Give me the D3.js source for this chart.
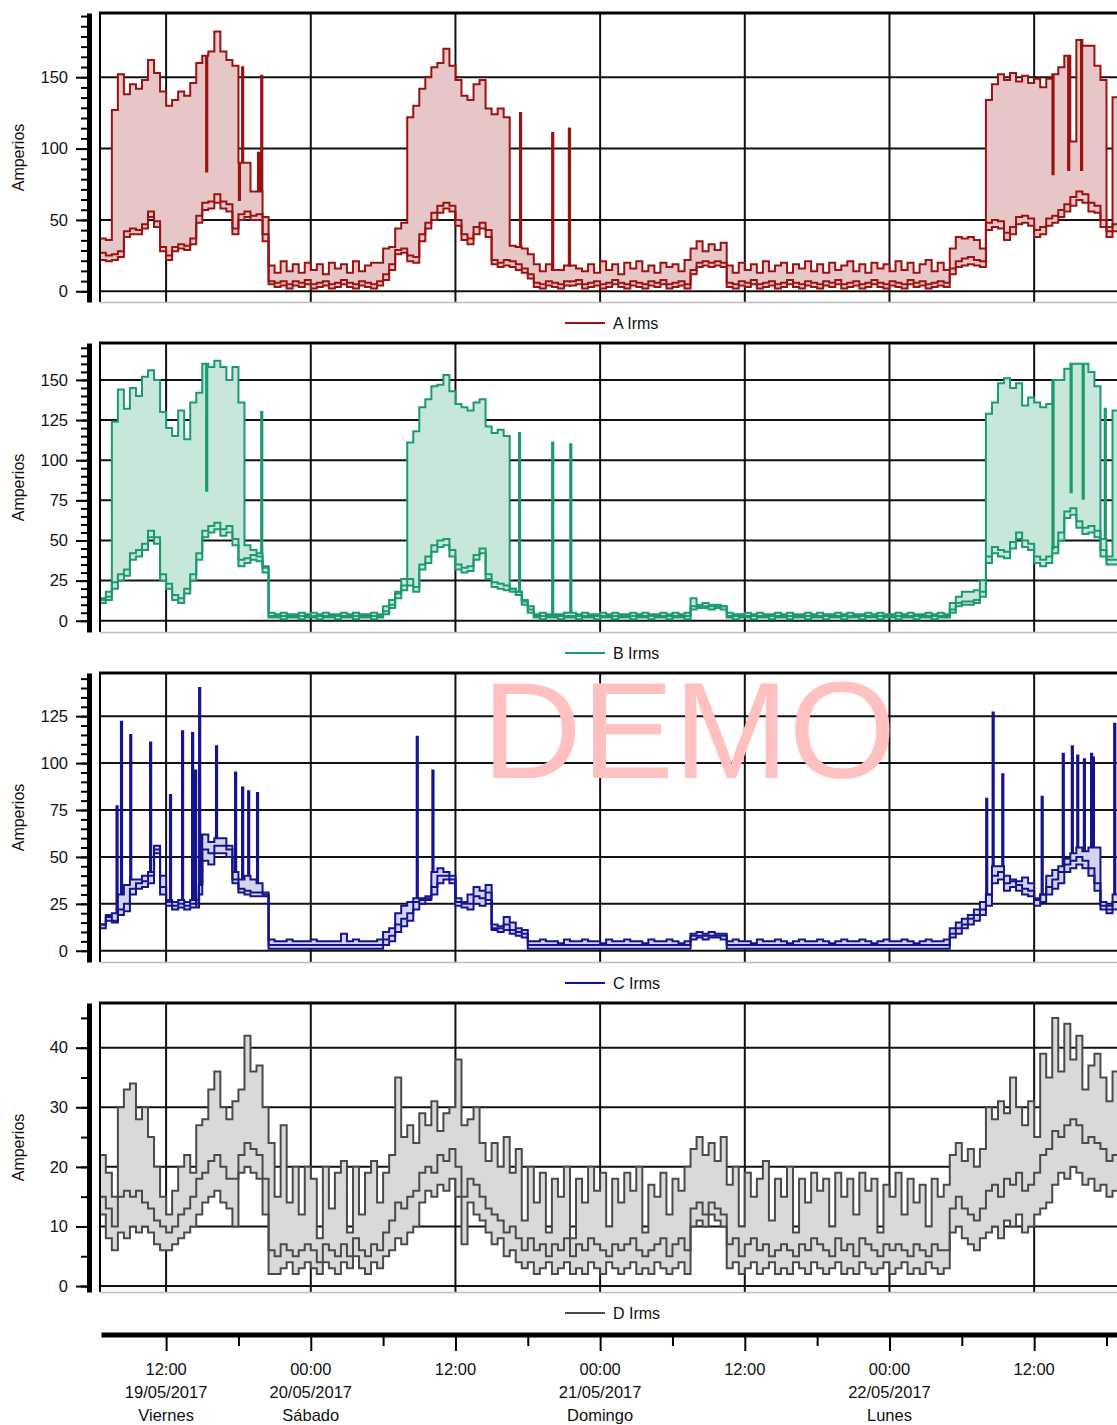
<!DOCTYPE html>
<html>
<head>
<meta charset="utf-8">
<script src="https://cdn.jsdelivr.net/npm/d3@7"></script>
<style>
  body { margin: 0; background: #fff; }
  svg { display: block; }
</style>
</head>
<body>
<svg id="chart" width="1117" height="1425"></svg>
<script>
// Half-hourly max / mean / min current per phase, from 19/05/2017 06:30
const startTime = new Date(2017, 4, 19, 6, 30);
const stepMinutes = 30;

const aMax = [
  37, 36, 127, 152, 138, 145, 142, 148, 162, 153,
  140, 130, 134, 140, 137, 146, 160, 165, 168, 182,
  168, 162, 158, 90, 90, 70, 70, 52, 18, 13,
  21, 14, 19, 13, 20, 15, 19, 12, 20, 16,
  19, 13, 21, 14, 18, 20, 20, 30, 31, 44,
  48, 122, 130, 142, 150, 157, 160, 170, 158, 148,
  137, 134, 145, 148, 128, 124, 128, 122, 32, 31,
  30, 26, 19, 14, 19, 15, 15, 18, 17, 16,
  14, 19, 13, 21, 15, 19, 12, 20, 16, 21,
  14, 18, 13, 20, 17, 19, 14, 22, 30, 35,
  28, 33, 29, 34, 18, 13, 20, 15, 19, 13,
  21, 14, 18, 20, 13, 19, 16, 21, 14, 19,
  13, 20, 15, 18, 21, 14, 19, 13, 20, 16,
  19, 14, 21, 15, 20, 13, 19, 22, 14, 20,
  15, 30, 38, 37, 38, 36, 30, 134, 145, 152,
  148, 153, 147, 151, 146, 149, 143, 149, 152, 157,
  165, 105, 176, 172, 172, 158, 148, 45, 136, 60,
  50
];
const aAvg = [
  27, 25, 26, 28, 42, 44, 43, 47, 56, 49,
  31, 25, 31, 33, 32, 37, 53, 62, 63, 68,
  63, 61, 44, 54, 56, 53, 54, 40, 7, 6,
  7, 5, 7, 6, 8, 5, 6, 7, 5, 6,
  8, 6, 5, 7, 6, 5, 7, 12, 19, 29,
  30, 25, 24, 40, 48, 55, 60, 62, 60, 50,
  40, 37, 45, 48, 43, 22, 20, 22, 21, 19,
  16, 12, 6, 5, 7, 6, 5, 7, 6, 8,
  5, 6, 7, 5, 6, 8, 6, 5, 7, 6,
  5, 7, 6, 8, 5, 6, 7, 5, 15, 20,
  21, 20, 21, 20, 6, 5, 7, 6, 8, 5,
  6, 7, 5, 6, 8, 6, 5, 7, 6, 5,
  7, 6, 8, 5, 6, 7, 5, 6, 8, 6,
  5, 7, 6, 5, 8, 6, 7, 5, 6, 7,
  6, 16, 21, 23, 24, 22, 21, 48, 50, 49,
  41, 45, 52, 53, 51, 43, 45, 51, 53, 57,
  61, 66, 70, 68, 62, 60, 50, 42, 47, 49,
  49
];
const aMin = [
  22, 21, 22, 24, 38, 40, 40, 44, 52, 45,
  28, 22, 28, 30, 29, 33, 48, 57, 58, 62,
  58, 56, 40, 50, 52, 50, 50, 35, 5, 3,
  4, 2, 4, 3, 5, 2, 3, 4, 2, 3,
  5, 3, 2, 4, 3, 2, 4, 8, 15, 26,
  27, 21, 20, 35, 44, 50, 55, 58, 56, 46,
  36, 33, 40, 44, 38, 19, 17, 18, 17, 15,
  13, 9, 3, 2, 4, 3, 2, 4, 3, 5,
  2, 3, 4, 2, 3, 5, 3, 2, 4, 3,
  2, 4, 3, 5, 2, 3, 4, 2, 12, 17,
  18, 17, 18, 17, 3, 2, 4, 3, 5, 2,
  3, 4, 2, 3, 5, 3, 2, 4, 3, 2,
  4, 3, 5, 2, 3, 4, 2, 3, 5, 3,
  2, 4, 3, 2, 5, 3, 4, 2, 3, 4,
  3, 12, 17, 18, 19, 18, 17, 43, 45, 44,
  36, 40, 47, 48, 46, 38, 40, 46, 48, 52,
  56, 60, 64, 62, 56, 55, 45, 38, 42, 44,
  44
];
// short-lived readings inside a half hour (a few minutes long)
const aBriefTimes = ['2017-05-19T15:19', '2017-05-19T18:02', '2017-05-19T18:18', '2017-05-19T19:37',
                     '2017-05-19T19:53', '2017-05-20T17:21', '2017-05-20T20:01', '2017-05-20T21:24',
                     '2017-05-22T13:31', '2017-05-22T14:49', '2017-05-22T15:53'];
const aBriefMax = [84, 64, 157, 97, 151, 125, 111, 114, 82, 85, 85];

const bMax = [
  14, 18, 124, 144, 132, 145, 140, 152, 156, 150,
  130, 120, 115, 131, 113, 136, 142, 160, 158, 162,
  158, 150, 158, 136, 47, 44, 42, 34, 5, 4,
  5, 4, 4, 5, 4, 5, 4, 5, 4, 4,
  5, 4, 5, 4, 4, 5, 4, 9, 13, 18,
  26, 111, 118, 133, 138, 146, 147, 153, 143, 135,
  133, 131, 136, 138, 121, 117, 119, 115, 20, 18,
  13, 9, 4, 5, 4, 4, 4, 5, 5, 4,
  5, 4, 4, 5, 4, 5, 4, 4, 5, 4,
  5, 4, 4, 5, 4, 5, 4, 5, 14, 10,
  11, 10, 10, 9, 5, 4, 4, 5, 4, 5,
  4, 4, 5, 4, 5, 4, 4, 5, 4, 5,
  4, 4, 5, 4, 5, 4, 4, 5, 4, 5,
  4, 4, 5, 4, 5, 4, 4, 5, 4, 5,
  4, 11, 15, 18, 18, 19, 25, 129, 136, 148,
  151, 145, 148, 134, 139, 136, 133, 135, 150, 150,
  157, 160, 160, 160, 155, 146, 51, 40, 131, 60,
  50
];
const bAvg = [
  13, 15, 24, 29, 32, 42, 44, 48, 56, 52,
  29, 23, 16, 14, 20, 29, 42, 56, 59, 61,
  57, 59, 51, 38, 39, 41, 40, 33, 3, 3,
  3, 3, 3, 3, 3, 3, 3, 3, 3, 3,
  3, 3, 3, 3, 3, 3, 3, 6, 10, 17,
  22, 26, 21, 35, 40, 47, 50, 51, 44, 35,
  33, 34, 41, 45, 29, 24, 23, 22, 20, 18,
  12, 7, 3, 3, 3, 3, 3, 3, 3, 3,
  3, 3, 3, 3, 3, 3, 3, 3, 3, 3,
  3, 3, 3, 3, 3, 3, 3, 3, 9, 9,
  9, 9, 9, 9, 3, 3, 3, 3, 3, 3,
  3, 3, 3, 3, 3, 3, 3, 3, 3, 3,
  3, 3, 3, 3, 3, 3, 3, 3, 3, 3,
  3, 3, 3, 3, 3, 3, 3, 3, 3, 3,
  3, 7, 11, 12, 12, 13, 18, 40, 46, 44,
  43, 49, 55, 50, 48, 40, 38, 40, 46, 55,
  68, 70, 62, 58, 59, 56, 44, 38, 38, 39,
  39
];
const bMin = [
  11, 13, 20, 25, 28, 38, 40, 44, 52, 48,
  25, 20, 13, 11, 17, 25, 38, 52, 55, 57,
  53, 55, 47, 34, 36, 38, 37, 30, 2, 2,
  1, 2, 2, 1, 2, 2, 1, 2, 2, 1,
  2, 2, 1, 2, 2, 1, 2, 4, 8, 14,
  19, 22, 18, 32, 36, 43, 46, 47, 40, 32,
  30, 31, 38, 42, 26, 21, 20, 19, 18, 16,
  10, 5, 2, 1, 2, 2, 1, 2, 2, 1,
  2, 2, 1, 2, 2, 1, 2, 2, 1, 2,
  2, 1, 2, 2, 1, 2, 2, 1, 7, 8,
  8, 7, 8, 7, 2, 1, 2, 2, 1, 2,
  2, 1, 2, 2, 1, 2, 2, 1, 2, 2,
  1, 2, 2, 1, 2, 2, 1, 2, 2, 1,
  2, 2, 1, 2, 2, 1, 2, 2, 1, 2,
  2, 5, 9, 10, 10, 11, 15, 36, 42, 40,
  39, 45, 51, 46, 44, 36, 34, 36, 42, 50,
  64, 66, 58, 54, 55, 52, 40, 35, 35, 36,
  36
];
const bBriefTimes = ['2017-05-19T15:19', '2017-05-19T19:53', '2017-05-20T17:16', '2017-05-20T20:01',
                     '2017-05-20T21:31', '2017-05-22T13:31', '2017-05-22T15:01', '2017-05-22T16:01',
                     '2017-05-22T17:51'];
const bBriefMax = [81, 130, 117, 111, 110, 45, 80, 76, 132];

const cMax = [
  14, 19, 20, 30, 35, 38, 38, 40, 42, 56,
  40, 27, 26, 27, 26, 27, 36, 62, 58, 60,
  60, 56, 42, 38, 40, 38, 36, 31, 6, 5,
  5, 6, 5, 5, 5, 6, 5, 5, 5, 5,
  9, 5, 6, 5, 5, 5, 6, 10, 12, 20,
  24, 26, 28, 28, 29, 42, 44, 42, 40, 28,
  26, 30, 34, 32, 35, 14, 13, 18, 15, 12,
  11, 5, 5, 6, 5, 5, 4, 6, 5, 5,
  6, 5, 5, 4, 6, 5, 5, 6, 5, 5,
  4, 6, 5, 5, 6, 5, 4, 5, 9, 10,
  9, 10, 9, 9, 5, 6, 5, 5, 4, 6,
  5, 5, 6, 5, 4, 5, 6, 5, 5, 6,
  5, 4, 5, 6, 5, 5, 6, 5, 4, 5,
  6, 5, 5, 6, 5, 4, 5, 6, 5, 5,
  6, 12, 15, 17, 19, 22, 26, 30, 45, 45,
  40, 38, 37, 39, 36, 28, 30, 40, 43, 45,
  49, 52, 55, 53, 55, 55, 26, 24, 30, 40,
  40
];
const cAvg = [
  14, 18, 16, 22, 25, 33, 36, 37, 40, 54,
  34, 26, 24, 25, 24, 25, 35, 54, 52, 56,
  56, 54, 38, 33, 32, 31, 31, 30, 3, 3,
  3, 3, 3, 3, 3, 3, 3, 3, 3, 3,
  3, 3, 3, 3, 3, 3, 3, 6, 8, 14,
  17, 20, 26, 27, 28, 34, 40, 40, 38, 26,
  25, 25, 29, 28, 31, 12, 12, 14, 11, 10,
  9, 3, 3, 3, 3, 3, 3, 3, 3, 3,
  3, 3, 3, 3, 3, 3, 3, 3, 3, 3,
  3, 3, 3, 3, 3, 3, 3, 3, 8, 8,
  8, 8, 8, 8, 3, 3, 3, 3, 3, 3,
  3, 3, 3, 3, 3, 3, 3, 3, 3, 3,
  3, 3, 3, 3, 3, 3, 3, 3, 3, 3,
  3, 3, 3, 3, 3, 3, 3, 3, 3, 3,
  3, 9, 12, 14, 17, 19, 22, 30, 40, 42,
  36, 37, 35, 33, 32, 27, 30, 34, 38, 42,
  46, 48, 50, 48, 44, 36, 24, 22, 26, 34,
  34
];
const cMin = [
  12, 16, 15, 19, 21, 30, 33, 34, 36, 52,
  30, 24, 22, 23, 22, 23, 30, 48, 46, 52,
  52, 50, 36, 31, 30, 29, 29, 29, 1, 1,
  1, 1, 1, 1, 1, 1, 1, 1, 1, 1,
  1, 1, 1, 1, 1, 1, 1, 3, 5, 10,
  13, 16, 22, 25, 27, 30, 36, 38, 36, 24,
  23, 22, 25, 24, 27, 11, 10, 11, 9, 8,
  7, 1, 1, 1, 1, 1, 1, 1, 1, 1,
  1, 1, 1, 1, 1, 1, 1, 1, 1, 1,
  1, 1, 1, 1, 1, 1, 1, 1, 6, 7,
  6, 7, 7, 6, 1, 1, 1, 1, 1, 1,
  1, 1, 1, 1, 1, 1, 1, 1, 1, 1,
  1, 1, 1, 1, 1, 1, 1, 1, 1, 1,
  1, 1, 1, 1, 1, 1, 1, 1, 1, 1,
  1, 7, 9, 12, 14, 16, 19, 24, 36, 38,
  32, 34, 32, 30, 29, 24, 26, 30, 33, 36,
  42, 44, 46, 44, 40, 32, 22, 20, 22, 30,
  30
];
const cBriefTimes = ['2017-05-19T07:53', '2017-05-19T08:15', '2017-05-19T09:01', '2017-05-19T10:40',
                     '2017-05-19T12:19', '2017-05-19T13:19', '2017-05-19T14:09', '2017-05-19T14:24',
                     '2017-05-19T14:44', '2017-05-19T16:08', '2017-05-19T17:43', '2017-05-19T18:18',
                     '2017-05-19T18:48', '2017-05-19T19:32', '2017-05-20T08:47', '2017-05-20T10:05',
                     '2017-05-22T08:01', '2017-05-22T08:33', '2017-05-22T09:21', '2017-05-22T12:37',
                     '2017-05-22T14:22', '2017-05-22T15:07', '2017-05-22T15:34', '2017-05-22T16:07',
                     '2017-05-22T16:43', '2017-05-22T16:52', '2017-05-22T18:38'];
const cBriefMax = [77, 122, 115, 111, 83, 117, 116, 96, 140, 109, 95, 87, 85, 84, 114, 96,
                   81, 127, 94, 82, 105, 109, 104, 102, 105, 103, 121];

const dMax = [
  22, 19, 15, 30, 33, 34, 28, 30, 25, 20,
  15, 12, 16, 20, 22, 19, 27, 28, 33, 36,
  30, 28, 31, 33, 42, 36, 37, 30, 24, 15,
  27, 14, 20, 12, 20, 18, 8, 20, 13, 19,
  21, 9, 20, 12, 19, 21, 14, 19, 22, 35,
  25, 27, 24, 29, 27, 31, 26, 29, 30, 38,
  27, 28, 30, 24, 21, 24, 20, 25, 19, 23,
  11, 20, 14, 19, 9, 18, 15, 20, 8, 18,
  14, 20, 16, 19, 10, 18, 14, 19, 16, 20,
  9, 17, 15, 19, 12, 18, 16, 20, 23, 25,
  22, 24, 21, 25, 17, 20, 10, 19, 15, 18,
  21, 11, 18, 15, 20, 9, 18, 14, 19, 16,
  18, 10, 19, 15, 18, 12, 19, 16, 18, 9,
  17, 15, 19, 12, 18, 14, 17, 10, 18, 15,
  17, 22, 24, 21, 23, 20, 23, 30, 28, 31,
  29, 35, 30, 27, 31, 25, 39, 35, 45, 36,
  44, 38, 42, 33, 37, 39, 35, 31, 36, 30,
  30
];
const dAvg = [
  15, 13, 10, 15, 16, 15, 16, 14, 13, 11,
  10, 9, 10, 12, 13, 15, 18, 19, 21, 22,
  20, 18, 18, 22, 24, 23, 22, 18, 6, 5,
  7, 6, 5, 6, 7, 6, 4, 7, 6, 5,
  7, 5, 8, 6, 5, 7, 6, 9, 11, 14,
  13, 15, 16, 19, 20, 19, 22, 21, 23, 20,
  15, 18, 17, 15, 13, 12, 11, 9, 10, 8,
  6, 8, 6, 7, 5, 7, 6, 8, 5, 7,
  6, 8, 7, 6, 5, 7, 6, 7, 8, 6,
  5, 6, 7, 8, 5, 7, 8, 6, 13, 14,
  12, 14, 13, 12, 7, 8, 5, 7, 8, 6,
  7, 5, 6, 7, 6, 5, 7, 6, 8, 7,
  6, 5, 8, 6, 7, 5, 8, 7, 6, 5,
  7, 6, 7, 6, 5, 7, 6, 5, 7, 6,
  6, 13, 15, 13, 12, 11, 13, 16, 17, 15,
  18, 17, 19, 16, 17, 19, 22, 23, 26, 25,
  27, 28, 27, 24, 25, 24, 23, 21, 22, 23,
  23
];
const dMin = [
  12, 8, 6, 9, 8, 10, 9, 10, 9, 7,
  6, 6, 7, 8, 9, 10, 12, 14, 15, 16,
  14, 13, 10, 19, 20, 19, 18, 12, 2, 2,
  3, 4, 2, 3, 4, 3, 2, 4, 3, 2,
  4, 3, 5, 3, 2, 4, 3, 5, 6, 8,
  7, 9, 10, 14, 16, 15, 17, 16, 18, 15,
  7, 14, 12, 11, 9, 7, 8, 5, 6, 4,
  3, 4, 2, 3, 4, 2, 3, 4, 2, 3,
  2, 4, 3, 2, 4, 3, 2, 3, 4, 2,
  3, 2, 4, 3, 2, 3, 4, 2, 10, 11,
  10, 12, 11, 10, 3, 4, 2, 3, 4, 2,
  3, 4, 2, 3, 2, 4, 3, 2, 4, 3,
  2, 3, 4, 2, 3, 2, 4, 3, 2, 3,
  4, 2, 3, 4, 2, 3, 2, 4, 3, 2,
  3, 9, 10, 8, 7, 6, 8, 9, 10, 8,
  11, 10, 12, 9, 10, 12, 13, 14, 17, 19,
  18, 20, 19, 17, 18, 16, 17, 15, 16, 17,
  17
];
const dBriefTimes = [];
const dBriefMax = [];
const briefMinutes = 6;

// Time axis: major ticks every 12 h, minor ticks at 06:00 / 18:00
const xMajorTimes = ['2017-05-19T12:00', '2017-05-20T00:00', '2017-05-20T12:00', '2017-05-21T00:00',
                     '2017-05-21T12:00', '2017-05-22T00:00', '2017-05-22T12:00'];
const xMajorLabels = [
  ['12:00', '19/05/2017', 'Viernes'],
  ['00:00', '20/05/2017', 'Sábado'],
  ['12:00'],
  ['00:00', '21/05/2017', 'Domingo'],
  ['12:00'],
  ['00:00', '22/05/2017', 'Lunes'],
  ['12:00']
];
const xMinorTimes = ['2017-05-19T18:00', '2017-05-20T06:00', '2017-05-20T18:00', '2017-05-21T06:00',
                     '2017-05-21T18:00', '2017-05-22T06:00', '2017-05-22T18:00'];

const seriesNames = ['A Irms', 'B Irms', 'C Irms', 'D Irms'];
const yMajorTicks = [[0, 50, 100, 150], [0, 25, 50, 75, 100, 125, 150], [0, 25, 50, 75, 100, 125], [0, 10, 20, 30, 40]];
const yDomains = [[-7.5, 195], [-7, 173], [-6, 148], [-1, 47.5]];
const yMinorSteps = [50 / 7, 5, 5, 5];
const strokeColors = ['#9c1111', '#1b9a6c', '#14148f', '#4a4a4a'];
const fillColors = ['#e6c6c6', '#c6e7da', '#d3d5ec', '#d9d9d9'];
const seriesData = [[aMax, aAvg, aMin], [bMax, bAvg, bMin], [cMax, cAvg, cMin], [dMax, dAvg, dMin]];
const briefData = [[aBriefTimes, aBriefMax], [bBriefTimes, bBriefMax], [cBriefTimes, cBriefMax], [dBriefTimes, dBriefMax]];

const FONT = '"Liberation Sans", Arial, Helvetica, sans-serif';
const parseT = d3.timeParse('%Y-%m-%dT%H:%M');
const svg = d3.select('#chart');

const plotLeft = 100, plotRight = 1131;
const panelTop0 = 13, panelStep = 330, panelH = 289;

const x = d3.scaleTime()
  .domain([new Date(2017, 4, 19, 6, 36), new Date(2017, 4, 22, 20, 0)])
  .range([101, 1130.6]);

const times = aMax.map((_, i) => new Date(startTime.getTime() + i * stepMinutes * 60000));
const majorDates = xMajorTimes.map(parseT);
const minorDates = xMinorTimes.map(parseT);

// half-hour rows plus the short readings, each lasting briefMinutes
function buildRows(series, brief) {
  const [sMax, sAvg, sMin] = series;
  const [bTimes, bValues] = brief;
  const rows = times.map((t, i) => ({ t, max: sMax[i], avg: sAvg[i], min: sMin[i] }));
  bTimes.forEach((s, j) => {
    const t0 = parseT(s);
    const t1 = new Date(t0.getTime() + briefMinutes * 60000);
    const i = d3.bisectRight(times, t0) - 1;
    rows.push({ t: t0, max: bValues[j], avg: sAvg[i], min: sMin[i] });
    rows.push({ t: t1, max: sMax[i], avg: sAvg[i], min: sMin[i] });
  });
  return rows.sort((a, b) => a.t - b.t);
}

const defs = svg.append('defs');

seriesNames.forEach((name, k) => {
  const top = panelTop0 + panelStep * k;
  const bottom = top + panelH;
  const y = d3.scaleLinear().domain(yDomains[k]).range([bottom, top]);
  const g = svg.append('g');

  defs.append('clipPath').attr('id', 'plotclip' + k)
    .append('rect').attr('x', plotLeft).attr('y', top)
    .attr('width', plotRight - plotLeft).attr('height', bottom - top);

  // grid
  const grid = g.append('g').attr('stroke', '#111').attr('stroke-width', 2);
  grid.selectAll('line.h').data(yMajorTicks[k]).join('line').attr('class', 'h')
    .attr('x1', plotLeft).attr('x2', plotRight)
    .attr('y1', d => y(d)).attr('y2', d => y(d));
  grid.selectAll('line.v').data(majorDates).join('line').attr('class', 'v')
    .attr('x1', d => x(d)).attr('x2', d => x(d))
    .attr('y1', top).attr('y2', bottom);

  // min-max band and the three step lines
  const rows = buildRows(seriesData[k], briefData[k]);
  const plot = g.append('g').attr('clip-path', `url(#plotclip${k})`);
  const area = d3.area().curve(d3.curveStepAfter)
    .x(d => x(d.t)).y0(d => y(d.min)).y1(d => y(d.max));
  plot.append('path').datum(rows).attr('d', area).attr('fill', fillColors[k]);
  ['min', 'avg', 'max'].forEach(key => {
    const line = d3.line().curve(d3.curveStepAfter).x(d => x(d.t)).y(d => y(d[key]));
    plot.append('path').datum(rows).attr('d', line)
      .attr('fill', 'none').attr('stroke', strokeColors[k])
      .attr('stroke-width', 2).attr('stroke-linejoin', 'miter');
  });

  // frame
  g.append('line').attr('x1', plotLeft - 1).attr('x2', plotRight).attr('y1', top).attr('y2', top)
    .attr('stroke', '#000').attr('stroke-width', 3);
  g.append('line').attr('x1', plotLeft).attr('x2', plotLeft).attr('y1', top).attr('y2', bottom)
    .attr('stroke', '#000').attr('stroke-width', 2);
  g.append('line').attr('x1', plotLeft).attr('x2', plotRight).attr('y1', bottom + 0.5).attr('y2', bottom + 0.5)
    .attr('stroke', '#bdbdbd').attr('stroke-width', 1.5);

  // y axis
  const minor = d3.range(0, yDomains[k][1], yMinorSteps[k]);
  const gMinor = g.append('g').attr('transform', 'translate(89,0)')
    .call(d3.axisLeft(y).tickValues(minor).tickSize(8).tickSizeOuter(0).tickFormat(''));
  gMinor.select('.domain').remove();
  gMinor.selectAll('line').attr('stroke', '#000').attr('stroke-width', 2);

  const gAxis = g.append('g').attr('transform', 'translate(89,0)')
    .call(d3.axisLeft(y).tickValues(yMajorTicks[k]).tickSize(13).tickPadding(8)
      .tickSizeOuter(0).tickFormat(d3.format('d')));
  gAxis.select('.domain').attr('stroke', '#000').attr('stroke-width', 5);
  gAxis.selectAll('line').attr('stroke', '#000').attr('stroke-width', 2);
  gAxis.selectAll('text').attr('font-family', FONT).attr('font-size', 16.5).attr('fill', '#111');

  g.append('text')
    .attr('transform', `translate(18,${(top + bottom) / 2}) rotate(-90)`)
    .attr('text-anchor', 'middle').attr('dy', '0.35em')
    .attr('font-family', FONT).attr('font-size', 16).attr('fill', '#111')
    .text('Amperios');

  // legend
  const ly = top + 310;
  g.append('line').attr('x1', 565).attr('x2', 605).attr('y1', ly).attr('y2', ly)
    .attr('stroke', strokeColors[k]).attr('stroke-width', 2);
  g.append('text').attr('x', 613).attr('y', ly).attr('dy', '0.35em')
    .attr('font-family', FONT).attr('font-size', 16).attr('fill', '#111')
    .text(name);
});

// shared time axis at the bottom
const axisY = 1334.5;
const gx = svg.append('g').attr('transform', `translate(0,${axisY})`)
  .call(d3.axisBottom(x).tickValues(majorDates).tickSize(16.5).tickSizeOuter(0).tickFormat(() => ''));
gx.select('.domain').attr('stroke', '#000').attr('stroke-width', 5);
gx.selectAll('line').attr('stroke', '#000').attr('stroke-width', 2);
gx.selectAll('text').remove();

const gxMinor = svg.append('g').attr('transform', `translate(0,${axisY})`)
  .call(d3.axisBottom(x).tickValues(minorDates).tickSize(11.5).tickSizeOuter(0).tickFormat(() => ''));
gxMinor.select('.domain').remove();
gxMinor.selectAll('line').attr('stroke', '#000').attr('stroke-width', 2);
gxMinor.selectAll('text').remove();

const labels = svg.append('g').attr('font-family', FONT).attr('font-size', 16.5)
  .attr('fill', '#111').attr('text-anchor', 'middle');
majorDates.forEach((d, i) => {
  const t = labels.append('text');
  xMajorLabels[i].forEach((s, j) => {
    t.append('tspan').attr('x', x(d)).attr('y', 1375 + 23 * j).text(s);
  });
});

// watermark
svg.append('text').attr('x', 482).attr('y', 778)
  .attr('font-family', FONT).attr('font-size', 138).attr('fill', '#ffc0c0')
  .text('DEMO');
</script>
</body>
</html>
